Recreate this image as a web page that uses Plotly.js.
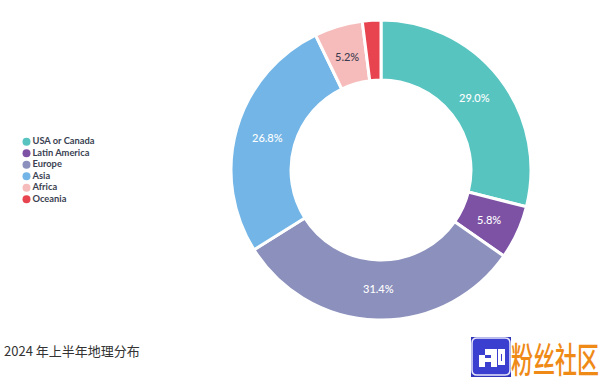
<!DOCTYPE html>
<html><head><meta charset="utf-8">
<script src="https://cdn.plot.ly/plotly-3.0.1.min.js"></script>
<style>html,body{margin:0;padding:0;background:#fff}</style></head>
<body><div id="c" style="width:600px;height:377px"></div>
<script>
const W = 600, H = 377;
const categories = ["USA or Canada","Latin America","Europe","Asia","Africa","Oceania"];
const shares = [29.0,5.8,31.4,26.8,5.2,2.0];
const sliceLabels = ["29.0%","5.8%","31.4%","26.8%","5.2%",""];
const labelColors = ["#fff","#fff","#fff","#fff","#3c3c50","#fff"];
const colors = ["#57c4c0","#7d52a5","#8b90bc","#72b5e6","#f6bcbc","#e8444f"];
const titleText = "2024 年上半年地理分布";
const watermark = "粉丝社区";
const legendX = [0,0,0,0,0,0];

const fx = p => p / W, fy = p => 1 - p / H;
const logoBlocks = [[479,355,485,367],[485,349,497,355],[491,355,497,361],[485,358,491,362],[491,361,497,367],[498,349,505,354],[498,354,501,361],[502,354,505,361],[498,361,505,365]];
const rectShape = (b, color) => ({type:"rect",xref:"paper",yref:"paper",x0:fx(b[0]),x1:fx(b[2]),y0:fy(b[3]),y1:fy(b[1]),fillcolor:color,line:{width:0}});
const shapes = [
  rectShape([471,337,511,377],"#2f34b8"),
  {type:"path",xref:"paper",yref:"paper",
   path:`M ${fx(477)} ${fy(338)} L ${fx(505)} ${fy(338)} Q ${fx(510)} ${fy(338)} ${fx(510)} ${fy(343)} L ${fx(510)} ${fy(370)} Q ${fx(510)} ${fy(375)} ${fx(505)} ${fy(375)} L ${fx(477)} ${fy(375)} Q ${fx(472)} ${fy(375)} ${fx(472)} ${fy(370)} L ${fx(472)} ${fy(343)} Q ${fx(472)} ${fy(338)} ${fx(477)} ${fy(338)} Z`,
   fillcolor:"#3a3fd0",line:{color:"#e8e8fa",width:1.5}}
].concat(logoBlocks.map(b => rectShape(b,"#fff")));

// slice labels sit at mid-ring, placed on an axis pair spanning the pie's domain
const labelRadius = 0.79;
const total = shares.reduce((a,b)=>a+b,0);
let cum = 0;
const sliceAnnotations = shares.map((v,i) => {
  const theta = (cum + v/2) / total * 2 * Math.PI; cum += v;
  return {text:sliceLabels[i],xref:"x2",yref:"y2",x:labelRadius*Math.sin(theta),y:labelRadius*Math.cos(theta),
    showarrow:false,xanchor:"center",yanchor:"middle",
    font:{family:"Lato, sans-serif",size:11,color:labelColors[i],weight:500}};
}).filter(a => a.text);

const pieDomainX = [231/W,531/W], pieDomainY = [1-320/H,1-20/H];
const data = [{
  type:"pie", labels:categories, values:shares, sort:false, direction:"clockwise", rotation:0,
  hole:0.6, textinfo:"none",
  marker:{colors:colors,line:{color:"#fff",width:3}},
  domain:{x:pieDomainX,y:pieDomainY}, showlegend:false, hoverinfo:"label+percent"
},{
  type:"scatter", mode:"markers+text", x:legendX, y:categories, text:categories,
  textposition:"middle right", textfont:{family:"Lato, sans-serif",size:9.3,color:"#3a3f52",weight:700},
  marker:{color:colors,size:8,symbol:"circle"}, showlegend:false, cliponaxis:false, hoverinfo:"text"
},{
  type:"scatter", mode:"none", x:[-1,1], y:[-1,1], xaxis:"x2", yaxis:"y2", showlegend:false, hoverinfo:"skip"
}];
const layout = {
  width:W, height:H, margin:{l:0,r:0,t:0,b:0}, paper_bgcolor:"#fff", plot_bgcolor:"rgba(0,0,0,0)",
  showlegend:false,
  title:{text:titleText,x:4/W,xanchor:"left",xref:"paper",y:1-351/H,yanchor:"middle",yref:"paper",font:{family:"'Noto Sans CJK SC', sans-serif",size:13,color:"#333"}},
  xaxis:{visible:false,domain:[0,0.3],range:[-26.5/180,153.5/180],fixedrange:true},
  yaxis:{visible:false,type:"category",categoryorder:"array",categoryarray:categories,domain:[1-205/H,1-136/H],range:[5.5,-0.5],fixedrange:true},
  xaxis2:{visible:false,domain:pieDomainX,range:[-1,1],fixedrange:true,anchor:"y2"},
  yaxis2:{visible:false,domain:pieDomainY,range:[-1,1],fixedrange:true,anchor:"x2"},
  shapes:shapes,
  annotations:sliceAnnotations.concat([{text:watermark,xref:"paper",yref:"paper",x:555/W,y:1-357/H,xanchor:"center",yanchor:"middle",showarrow:false,font:{family:"'Noto Sans CJK SC', sans-serif",size:22,color:"#ef8a17",weight:500}}])
};
Plotly.newPlot("c",data,layout,{displayModeBar:false,staticPlot:true}).then(() => {
  // the watermark's glyphs are stretched vertically in the reference
  const nodes = document.querySelectorAll(".annotation-text");
  const t = nodes[nodes.length-1];
  const old = t.getAttribute("transform") || "";
  const bb = t.getBBox();
  const cy = bb.y + bb.height/2;
  t.setAttribute("transform", `${old} translate(0,${cy}) scale(1,1.6) translate(0,${-cy})`);
});
</script></body></html>
